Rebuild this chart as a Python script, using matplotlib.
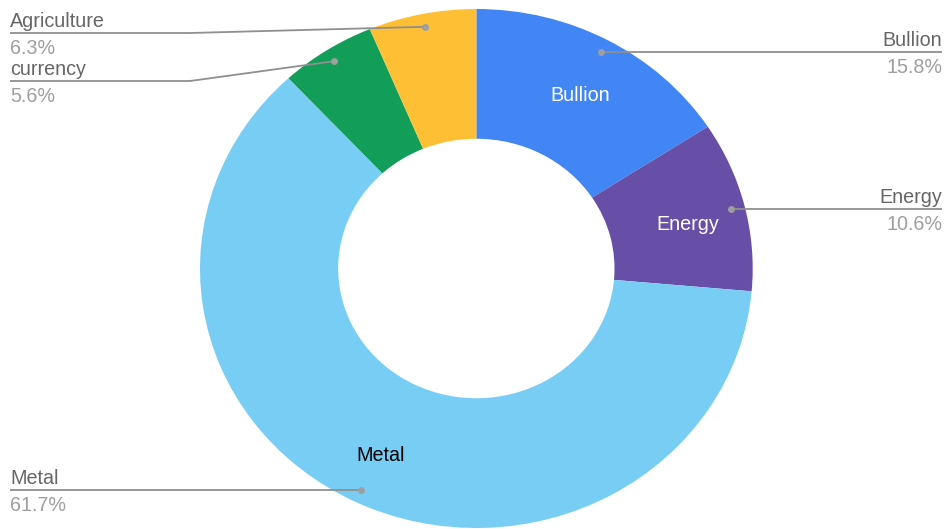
import matplotlib.pyplot as plt
import numpy as np

plt.rcParams['font.family'] = ['Liberation Sans', 'DejaVu Sans']

# data (clockwise from 12 o'clock)
categories = ['Bullion', 'Energy', 'Metal', 'currency', 'Agriculture']
shares = [15.8, 10.6, 61.7, 5.6, 6.3]
colors = ['#4285f4', '#674ea7', '#77cdf4', '#129d58', '#ffbf35']
inside_text = ['white', 'white', 'black', None, None]

# where the outside label lines sit (pixels from top), None = at the dot
label_line_y = [None, None, None, 81, 33]

W, H = 946, 529
fig = plt.figure(figsize=(W / 100, H / 100), dpi=100)

# the donut is a bit squashed in the original, so aspect is left free
left, right, top, bottom = 200, 752.7, 9, 528
ax = fig.add_axes([left / W, (H - bottom) / H, (right - left) / W, (bottom - top) / H])
wedges, _ = ax.pie(shares, colors=colors, startangle=90, counterclock=False,
                   radius=1, wedgeprops=dict(width=0.5, linewidth=0))
ax.set_aspect('auto')
ax.set_xlim(-1, 1)
ax.set_ylim(-1, 1)
ax.axis('off')

# overlay in pixel coords for the leader lines and outside labels
ov = fig.add_axes([0, 0, 1, 1], zorder=5)
ov.set_xlim(0, W)
ov.set_ylim(H, 0)
ov.axis('off')

name_col = '#666666'
pct_col = '#9e9e9e'
line_col = '#8f8f8f'
fs = 14.2

for i, w in enumerate(wedges):
    mid = np.deg2rad((w.theta1 + w.theta2) / 2)
    if inside_text[i]:
        ax.text(0.79 * np.cos(mid), 0.78 * np.sin(mid) - 0.02, categories[i],
                color=inside_text[i], fontsize=fs, ha='center', va='center')
    disp = ax.transData.transform((0.95 * np.cos(mid), 0.95 * np.sin(mid)))
    px, py = ov.transData.inverted().transform(disp)
    ly = py if label_line_y[i] is None else label_line_y[i]
    if np.cos(mid) >= 0:
        xs, ys = [px, 942], [py, ly]
        tx, ha = 942, 'right'
    else:
        if label_line_y[i] is None:
            xs, ys = [px, 10], [py, ly]
        else:
            xs, ys = [px, 190, 10], [py, ly, ly]
        tx, ha = 10, 'left'
    ov.plot(xs, ys, color=line_col, lw=1.3, solid_capstyle='butt')
    ov.plot(px, py, 'o', color='#9e9e9e', ms=5, mew=0)
    ov.text(tx, ly - 6, categories[i], color=name_col, fontsize=fs, ha=ha, va='baseline')
    ov.text(tx, ly + 21, '%.1f%%' % shares[i], color=pct_col, fontsize=fs, ha=ha, va='baseline')

plt.savefig('out.png', dpi=100)
